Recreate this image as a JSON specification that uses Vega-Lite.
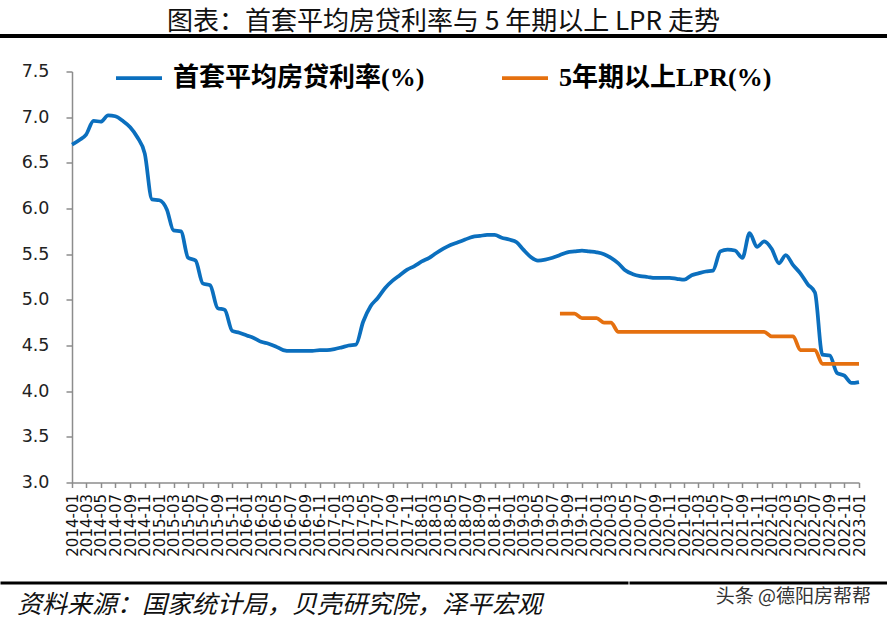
{
  "$schema": "https://vega.github.io/schema/vega-lite/v6.json",
  "padding": {"top": 7, "left": 0, "right": 0, "bottom": 0},
  "background": "white",
  "config": {"view": {"stroke": null}},
  "datasets": {
    "rates": [
      {"date": "2014-01-01", "series": "首套平均房贷利率(%)", "value": 6.70},
      {"date": "2014-02-01", "series": "首套平均房贷利率(%)", "value": 6.75},
      {"date": "2014-03-01", "series": "首套平均房贷利率(%)", "value": 6.81},
      {"date": "2014-04-01", "series": "首套平均房贷利率(%)", "value": 6.96},
      {"date": "2014-05-01", "series": "首套平均房贷利率(%)", "value": 6.95},
      {"date": "2014-06-01", "series": "首套平均房贷利率(%)", "value": 7.02},
      {"date": "2014-07-01", "series": "首套平均房贷利率(%)", "value": 7.01},
      {"date": "2014-08-01", "series": "首套平均房贷利率(%)", "value": 6.96},
      {"date": "2014-09-01", "series": "首套平均房贷利率(%)", "value": 6.89},
      {"date": "2014-10-01", "series": "首套平均房贷利率(%)", "value": 6.78},
      {"date": "2014-11-01", "series": "首套平均房贷利率(%)", "value": 6.60},
      {"date": "2014-12-01", "series": "首套平均房贷利率(%)", "value": 6.10},
      {"date": "2015-01-01", "series": "首套平均房贷利率(%)", "value": 6.09},
      {"date": "2015-02-01", "series": "首套平均房贷利率(%)", "value": 5.99},
      {"date": "2015-03-01", "series": "首套平均房贷利率(%)", "value": 5.76},
      {"date": "2015-04-01", "series": "首套平均房贷利率(%)", "value": 5.75},
      {"date": "2015-05-01", "series": "首套平均房贷利率(%)", "value": 5.46},
      {"date": "2015-06-01", "series": "首套平均房贷利率(%)", "value": 5.43},
      {"date": "2015-07-01", "series": "首套平均房贷利率(%)", "value": 5.18},
      {"date": "2015-08-01", "series": "首套平均房贷利率(%)", "value": 5.16},
      {"date": "2015-09-01", "series": "首套平均房贷利率(%)", "value": 4.91},
      {"date": "2015-10-01", "series": "首套平均房贷利率(%)", "value": 4.89},
      {"date": "2015-11-01", "series": "首套平均房贷利率(%)", "value": 4.66},
      {"date": "2015-12-01", "series": "首套平均房贷利率(%)", "value": 4.64},
      {"date": "2016-01-01", "series": "首套平均房贷利率(%)", "value": 4.61},
      {"date": "2016-02-01", "series": "首套平均房贷利率(%)", "value": 4.58},
      {"date": "2016-03-01", "series": "首套平均房贷利率(%)", "value": 4.54},
      {"date": "2016-04-01", "series": "首套平均房贷利率(%)", "value": 4.52},
      {"date": "2016-05-01", "series": "首套平均房贷利率(%)", "value": 4.49},
      {"date": "2016-06-01", "series": "首套平均房贷利率(%)", "value": 4.45},
      {"date": "2016-07-01", "series": "首套平均房贷利率(%)", "value": 4.44},
      {"date": "2016-08-01", "series": "首套平均房贷利率(%)", "value": 4.44},
      {"date": "2016-09-01", "series": "首套平均房贷利率(%)", "value": 4.44},
      {"date": "2016-10-01", "series": "首套平均房贷利率(%)", "value": 4.44},
      {"date": "2016-11-01", "series": "首套平均房贷利率(%)", "value": 4.45},
      {"date": "2016-12-01", "series": "首套平均房贷利率(%)", "value": 4.45},
      {"date": "2017-01-01", "series": "首套平均房贷利率(%)", "value": 4.46},
      {"date": "2017-02-01", "series": "首套平均房贷利率(%)", "value": 4.48},
      {"date": "2017-03-01", "series": "首套平均房贷利率(%)", "value": 4.50},
      {"date": "2017-04-01", "series": "首套平均房贷利率(%)", "value": 4.51},
      {"date": "2017-05-01", "series": "首套平均房贷利率(%)", "value": 4.76},
      {"date": "2017-06-01", "series": "首套平均房贷利率(%)", "value": 4.93},
      {"date": "2017-07-01", "series": "首套平均房贷利率(%)", "value": 5.02},
      {"date": "2017-08-01", "series": "首套平均房贷利率(%)", "value": 5.13},
      {"date": "2017-09-01", "series": "首套平均房贷利率(%)", "value": 5.21},
      {"date": "2017-10-01", "series": "首套平均房贷利率(%)", "value": 5.27},
      {"date": "2017-11-01", "series": "首套平均房贷利率(%)", "value": 5.33},
      {"date": "2017-12-01", "series": "首套平均房贷利率(%)", "value": 5.37},
      {"date": "2018-01-01", "series": "首套平均房贷利率(%)", "value": 5.42},
      {"date": "2018-02-01", "series": "首套平均房贷利率(%)", "value": 5.46},
      {"date": "2018-03-01", "series": "首套平均房贷利率(%)", "value": 5.51},
      {"date": "2018-04-01", "series": "首套平均房贷利率(%)", "value": 5.56},
      {"date": "2018-05-01", "series": "首套平均房贷利率(%)", "value": 5.60},
      {"date": "2018-06-01", "series": "首套平均房贷利率(%)", "value": 5.63},
      {"date": "2018-07-01", "series": "首套平均房贷利率(%)", "value": 5.66},
      {"date": "2018-08-01", "series": "首套平均房贷利率(%)", "value": 5.69},
      {"date": "2018-09-01", "series": "首套平均房贷利率(%)", "value": 5.70},
      {"date": "2018-10-01", "series": "首套平均房贷利率(%)", "value": 5.71},
      {"date": "2018-11-01", "series": "首套平均房贷利率(%)", "value": 5.71},
      {"date": "2018-12-01", "series": "首套平均房贷利率(%)", "value": 5.68},
      {"date": "2019-01-01", "series": "首套平均房贷利率(%)", "value": 5.66},
      {"date": "2019-02-01", "series": "首套平均房贷利率(%)", "value": 5.63},
      {"date": "2019-03-01", "series": "首套平均房贷利率(%)", "value": 5.55},
      {"date": "2019-04-01", "series": "首套平均房贷利率(%)", "value": 5.47},
      {"date": "2019-05-01", "series": "首套平均房贷利率(%)", "value": 5.43},
      {"date": "2019-06-01", "series": "首套平均房贷利率(%)", "value": 5.44},
      {"date": "2019-07-01", "series": "首套平均房贷利率(%)", "value": 5.46},
      {"date": "2019-08-01", "series": "首套平均房贷利率(%)", "value": 5.49},
      {"date": "2019-09-01", "series": "首套平均房贷利率(%)", "value": 5.52},
      {"date": "2019-10-01", "series": "首套平均房贷利率(%)", "value": 5.53},
      {"date": "2019-11-01", "series": "首套平均房贷利率(%)", "value": 5.54},
      {"date": "2019-12-01", "series": "首套平均房贷利率(%)", "value": 5.53},
      {"date": "2020-01-01", "series": "首套平均房贷利率(%)", "value": 5.52},
      {"date": "2020-02-01", "series": "首套平均房贷利率(%)", "value": 5.50},
      {"date": "2020-03-01", "series": "首套平均房贷利率(%)", "value": 5.46},
      {"date": "2020-04-01", "series": "首套平均房贷利率(%)", "value": 5.40},
      {"date": "2020-05-01", "series": "首套平均房贷利率(%)", "value": 5.32},
      {"date": "2020-06-01", "series": "首套平均房贷利率(%)", "value": 5.28},
      {"date": "2020-07-01", "series": "首套平均房贷利率(%)", "value": 5.26},
      {"date": "2020-08-01", "series": "首套平均房贷利率(%)", "value": 5.25},
      {"date": "2020-09-01", "series": "首套平均房贷利率(%)", "value": 5.24},
      {"date": "2020-10-01", "series": "首套平均房贷利率(%)", "value": 5.24},
      {"date": "2020-11-01", "series": "首套平均房贷利率(%)", "value": 5.24},
      {"date": "2020-12-01", "series": "首套平均房贷利率(%)", "value": 5.23},
      {"date": "2021-01-01", "series": "首套平均房贷利率(%)", "value": 5.22},
      {"date": "2021-02-01", "series": "首套平均房贷利率(%)", "value": 5.27},
      {"date": "2021-03-01", "series": "首套平均房贷利率(%)", "value": 5.29},
      {"date": "2021-04-01", "series": "首套平均房贷利率(%)", "value": 5.31},
      {"date": "2021-05-01", "series": "首套平均房贷利率(%)", "value": 5.32},
      {"date": "2021-06-01", "series": "首套平均房贷利率(%)", "value": 5.53},
      {"date": "2021-07-01", "series": "首套平均房贷利率(%)", "value": 5.55},
      {"date": "2021-08-01", "series": "首套平均房贷利率(%)", "value": 5.54},
      {"date": "2021-09-01", "series": "首套平均房贷利率(%)", "value": 5.46},
      {"date": "2021-10-01", "series": "首套平均房贷利率(%)", "value": 5.73},
      {"date": "2021-11-01", "series": "首套平均房贷利率(%)", "value": 5.58},
      {"date": "2021-12-01", "series": "首套平均房贷利率(%)", "value": 5.64},
      {"date": "2022-01-01", "series": "首套平均房贷利率(%)", "value": 5.56},
      {"date": "2022-02-01", "series": "首套平均房贷利率(%)", "value": 5.40},
      {"date": "2022-03-01", "series": "首套平均房贷利率(%)", "value": 5.49},
      {"date": "2022-04-01", "series": "首套平均房贷利率(%)", "value": 5.38},
      {"date": "2022-05-01", "series": "首套平均房贷利率(%)", "value": 5.29},
      {"date": "2022-06-01", "series": "首套平均房贷利率(%)", "value": 5.17},
      {"date": "2022-07-01", "series": "首套平均房贷利率(%)", "value": 5.08},
      {"date": "2022-08-01", "series": "首套平均房贷利率(%)", "value": 4.40},
      {"date": "2022-09-01", "series": "首套平均房贷利率(%)", "value": 4.39},
      {"date": "2022-10-01", "series": "首套平均房贷利率(%)", "value": 4.20},
      {"date": "2022-11-01", "series": "首套平均房贷利率(%)", "value": 4.17},
      {"date": "2022-12-01", "series": "首套平均房贷利率(%)", "value": 4.09},
      {"date": "2023-01-01", "series": "首套平均房贷利率(%)", "value": 4.10},
      {"date": "2019-08-01", "series": "5年期以上LPR(%)", "value": 4.85},
      {"date": "2019-09-01", "series": "5年期以上LPR(%)", "value": 4.85},
      {"date": "2019-10-01", "series": "5年期以上LPR(%)", "value": 4.85},
      {"date": "2019-11-01", "series": "5年期以上LPR(%)", "value": 4.80},
      {"date": "2019-12-01", "series": "5年期以上LPR(%)", "value": 4.80},
      {"date": "2020-01-01", "series": "5年期以上LPR(%)", "value": 4.80},
      {"date": "2020-02-01", "series": "5年期以上LPR(%)", "value": 4.75},
      {"date": "2020-03-01", "series": "5年期以上LPR(%)", "value": 4.75},
      {"date": "2020-04-01", "series": "5年期以上LPR(%)", "value": 4.65},
      {"date": "2020-05-01", "series": "5年期以上LPR(%)", "value": 4.65},
      {"date": "2020-06-01", "series": "5年期以上LPR(%)", "value": 4.65},
      {"date": "2020-07-01", "series": "5年期以上LPR(%)", "value": 4.65},
      {"date": "2020-08-01", "series": "5年期以上LPR(%)", "value": 4.65},
      {"date": "2020-09-01", "series": "5年期以上LPR(%)", "value": 4.65},
      {"date": "2020-10-01", "series": "5年期以上LPR(%)", "value": 4.65},
      {"date": "2020-11-01", "series": "5年期以上LPR(%)", "value": 4.65},
      {"date": "2020-12-01", "series": "5年期以上LPR(%)", "value": 4.65},
      {"date": "2021-01-01", "series": "5年期以上LPR(%)", "value": 4.65},
      {"date": "2021-02-01", "series": "5年期以上LPR(%)", "value": 4.65},
      {"date": "2021-03-01", "series": "5年期以上LPR(%)", "value": 4.65},
      {"date": "2021-04-01", "series": "5年期以上LPR(%)", "value": 4.65},
      {"date": "2021-05-01", "series": "5年期以上LPR(%)", "value": 4.65},
      {"date": "2021-06-01", "series": "5年期以上LPR(%)", "value": 4.65},
      {"date": "2021-07-01", "series": "5年期以上LPR(%)", "value": 4.65},
      {"date": "2021-08-01", "series": "5年期以上LPR(%)", "value": 4.65},
      {"date": "2021-09-01", "series": "5年期以上LPR(%)", "value": 4.65},
      {"date": "2021-10-01", "series": "5年期以上LPR(%)", "value": 4.65},
      {"date": "2021-11-01", "series": "5年期以上LPR(%)", "value": 4.65},
      {"date": "2021-12-01", "series": "5年期以上LPR(%)", "value": 4.65},
      {"date": "2022-01-01", "series": "5年期以上LPR(%)", "value": 4.60},
      {"date": "2022-02-01", "series": "5年期以上LPR(%)", "value": 4.60},
      {"date": "2022-03-01", "series": "5年期以上LPR(%)", "value": 4.60},
      {"date": "2022-04-01", "series": "5年期以上LPR(%)", "value": 4.60},
      {"date": "2022-05-01", "series": "5年期以上LPR(%)", "value": 4.45},
      {"date": "2022-06-01", "series": "5年期以上LPR(%)", "value": 4.45},
      {"date": "2022-07-01", "series": "5年期以上LPR(%)", "value": 4.45},
      {"date": "2022-08-01", "series": "5年期以上LPR(%)", "value": 4.30},
      {"date": "2022-09-01", "series": "5年期以上LPR(%)", "value": 4.30},
      {"date": "2022-10-01", "series": "5年期以上LPR(%)", "value": 4.30},
      {"date": "2022-11-01", "series": "5年期以上LPR(%)", "value": 4.30},
      {"date": "2022-12-01", "series": "5年期以上LPR(%)", "value": 4.30},
      {"date": "2023-01-01", "series": "5年期以上LPR(%)", "value": 4.30}
    ]
  },
  "spacing": 24,
  "vconcat": [
    {
      "spacing": 23.5,
      "vconcat": [
        {
          "width": 883,
          "height": 0.01,
          "view": {"stroke": "#000000", "strokeWidth": 4},
          "title": {"text": "图表：首套平均房贷利率与 5 年期以上 LPR 走势", "orient": "top", "anchor": "middle", "font": "Noto Sans CJK SC", "fontSize": 26, "fontWeight": "normal", "color": "#111111", "offset": 1},
          "data": {"values": [{}]},
          "mark": {"type": "point", "opacity": 0, "size": 0}
        },
        {
          "width": 883,
          "height": 411,
          "data": {"name": "rates"},
          "mark": {"type": "line", "strokeWidth": 3.75, "interpolate": "monotone"},
          "encoding": {
            "x": {
              "field": "date",
              "type": "temporal",
              "scale": {"type": "utc", "domain": [{"year": 2014, "month": 1, "date": 1, "utc": true}, {"year": 2023, "month": 1, "date": 1, "utc": true}], "nice": false, "range": [70, 857]},
              "axis": {
                "title": null,
                "format": "%Y-%m",
                "tickCount": {"interval": "month", "step": 2},
                "labelAngle": -90,
                "labelFont": "DejaVu Sans",
                "labelFontSize": 15,
                "labelColor": "#111111",
                "labelPadding": 6,
                "labelOverlap": false,
                "labelFlush": false,
                "labelBound": false,
                "tickSize": 5,
                "tickColor": "#8c8c8c",
                "tickWidth": 1.5,
                "domainColor": "#8c8c8c",
                "domainWidth": 1.5,
                "grid": false
              }
            },
            "y": {
              "field": "value",
              "type": "quantitative",
              "scale": {"domain": [3, 7.5], "nice": false, "zero": false},
              "axis": {
                "title": null,
                "offset": -70,
                "values": [3, 3.5, 4, 4.5, 5, 5.5, 6, 6.5, 7, 7.5],
                "format": ".1f",
                "labelFont": "DejaVu Sans",
                "labelFontSize": 17.5,
                "labelColor": "#222222",
                "labelPadding": 17,
                "tickSize": 6,
                "tickColor": "#8c8c8c",
                "tickWidth": 1.5,
                "domainColor": "#8c8c8c",
                "domainWidth": 1.5,
                "grid": false
              }
            },
            "color": {
              "field": "series",
              "type": "nominal",
              "scale": {"domain": ["首套平均房贷利率(%)", "5年期以上LPR(%)"], "range": ["#0B6FBE", "#E5700F"]},
              "legend": {
                "title": null,
                "orient": "none",
                "legendX": 112,
                "legendY": 17,
                "direction": "horizontal",
                "padding": 0,
                "symbolType": "stroke",
                "symbolSize": 2116,
                "symbolStrokeWidth": 3.75,
                "labelFont": "'Liberation Serif', 'Noto Sans CJK SC'",
                "labelFontSize": 26,
                "labelFontWeight": "bold",
                "labelColor": "#000000",
                "labelLimit": 500,
                "labelOffset": 9,
                "columnPadding": 69
              }
            }
          }
        }
      ]
    },
    {
      "spacing": 0,
      "hconcat": [
        {
          "width": 625,
          "height": 0.01,
          "view": {"stroke": "#000000", "strokeWidth": 3},
          "title": {"text": "资料来源：国家统计局，贝壳研究院，泽平宏观", "orient": "bottom", "anchor": "start", "font": "Noto Sans CJK SC", "fontStyle": "italic", "fontSize": 25, "fontWeight": "normal", "color": "#111111", "offset": 10, "dx": 15},
          "data": {"values": [{}]},
          "mark": {"type": "point", "opacity": 0, "size": 0}
        },
        {
          "width": 256,
          "height": 0.01,
          "view": {"stroke": "#000000", "strokeWidth": 3},
          "title": {"text": "头条 @德阳房帮帮", "orient": "bottom", "anchor": "end", "font": "Noto Sans CJK SC", "fontSize": 19, "fontWeight": "normal", "color": "#333333", "offset": 5, "dx": -16},
          "data": {"values": [{}]},
          "mark": {"type": "point", "opacity": 0, "size": 0}
        }
      ]
    }
  ]
}
